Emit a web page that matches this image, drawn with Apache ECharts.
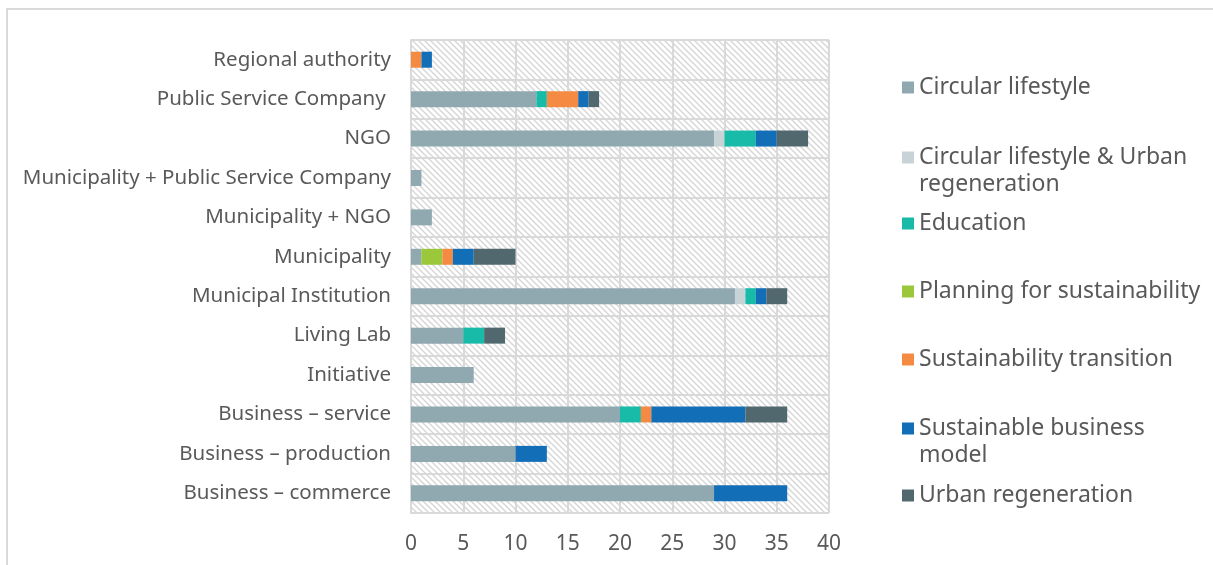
<!DOCTYPE html>
<html>
<head>
<meta charset="utf-8">
<script src="https://cdn.jsdelivr.net/npm/echarts@6/dist/echarts.min.js"></script>
<style>
  html, body { margin: 0; padding: 0; background: #fff; }
  #chart { width: 1213px; height: 565px; }
</style>
</head>
<body>
<div id="chart"></div>
<script>
// categories, bottom to top
const categories = [
  'Business \u2013 commerce',
  'Business \u2013 production',
  'Business \u2013 service',
  'Initiative',
  'Living Lab',
  'Municipal Institution',
  'Municipality',
  'Municipality + NGO',
  'Municipality + Public Service Company',
  'NGO',
  'Public Service Company ',
  'Regional authority'
]

const seriesNames = [
  'Circular lifestyle',
  'Circular lifestyle & Urban regeneration',
  'Education',
  'Planning for sustainability',
  'Sustainability transition',
  'Sustainable business model',
  'Urban regeneration'
]

const circularLifestyle = [29, 10, 20, 6, 5, 31, 1, 2, 1, 29, 12, 0]
const circularUrban = [0, 0, 0, 0, 0, 1, 0, 0, 0, 1, 0, 0]
const education = [0, 0, 2, 0, 2, 1, 0, 0, 0, 3, 1, 0]
const planning = [0, 0, 0, 0, 0, 0, 2, 0, 0, 0, 0, 0]
const transition = [0, 0, 1, 0, 0, 0, 1, 0, 0, 0, 3, 1]
const businessModel = [7, 3, 9, 0, 0, 1, 2, 0, 0, 2, 1, 1]
const urbanRegen = [0, 0, 4, 0, 2, 2, 4, 0, 0, 3, 1, 0]

const xTicks = [0, 5, 10, 15, 20, 25, 30, 35, 40]

const values = [circularLifestyle, circularUrban, education, planning, transition, businessModel, urbanRegen]
const colors = ['#90a9b0', '#c8d3d7', '#17bba8', '#9bc83a', '#f58a42', '#116eb7', '#50686e']

// hatch pattern for the plot area
const tile = document.createElement('canvas')
tile.width = 6
tile.height = 6
const tctx = tile.getContext('2d')
tctx.fillStyle = '#ffffff'
tctx.fillRect(0, 0, 6, 6)
tctx.strokeStyle = '#d6d6d6'
tctx.lineWidth = 1.4
tctx.beginPath()
tctx.moveTo(-1, -1); tctx.lineTo(7, 7)
tctx.moveTo(-1, 5); tctx.lineTo(1, 7)
tctx.moveTo(5, -1); tctx.lineTo(7, 1)
tctx.stroke()

const FONT = '"Noto Sans", sans-serif'
const chart = echarts.init(document.getElementById('chart'))

// one legend per entry so every entry keeps its own slot;
// two-line names get a leading blank line so the marker sits on the first line
const legendTops = [69, 112, 205, 273, 341, 383, 477]
const legendNames = {
  'Circular lifestyle & Urban regeneration': '\nCircular lifestyle & Urban\nregeneration',
  'Sustainable business model': '\nSustainable business\nmodel'
}

const legends = seriesNames.map((name, i) => ({
  data: [name],
  left: 897,
  top: legendTops[i],
  itemWidth: 12,
  itemHeight: 12,
  icon: 'rect',
  formatter: n => legendNames[n] || n,
  textStyle: {
    color: '#595959',
    fontSize: 23,
    fontFamily: FONT,
    lineHeight: 27
  }
}))

const option = {
  animation: false,
  backgroundColor: '#ffffff',
  graphic: [{
    type: 'rect',
    shape: { x: 7, y: 9, width: 1300, height: 700 },
    style: { fill: 'none', stroke: '#d9d9d9', lineWidth: 2 },
    silent: true
  }],
  grid: {
    left: 411,
    right: 384,
    top: 40,
    bottom: 52,
    show: true,
    borderWidth: 0,
    backgroundColor: { image: tile, repeat: 'repeat' }
  },
  legend: legends,
  xAxis: {
    type: 'value',
    min: 0,
    max: 40,
    interval: 5,
    axisLine: { show: false },
    axisTick: { show: false },
    axisLabel: {
      color: '#595959',
      fontSize: 21,
      fontFamily: FONT,
      margin: 21,
      formatter: v => xTicks.includes(v) ? String(v) : ''
    },
    splitLine: { show: true, lineStyle: { color: '#d9d9d9', width: 2 } }
  },
  yAxis: {
    type: 'category',
    data: categories,
    axisLine: { show: true, lineStyle: { color: '#d9d9d9', width: 2 } },
    axisTick: { show: false },
    splitLine: { show: true, lineStyle: { color: '#d9d9d9', width: 2 } },
    axisLabel: {
      color: '#595959',
      fontSize: 20.5,
      fontFamily: FONT,
      margin: 20
    }
  },
  series: seriesNames.map((name, i) => ({
    name: name,
    type: 'bar',
    stack: 'total',
    barWidth: 16,
    itemStyle: { color: colors[i] },
    data: values[i]
  }))
}

chart.setOption(option)
</script>
</body>
</html>
